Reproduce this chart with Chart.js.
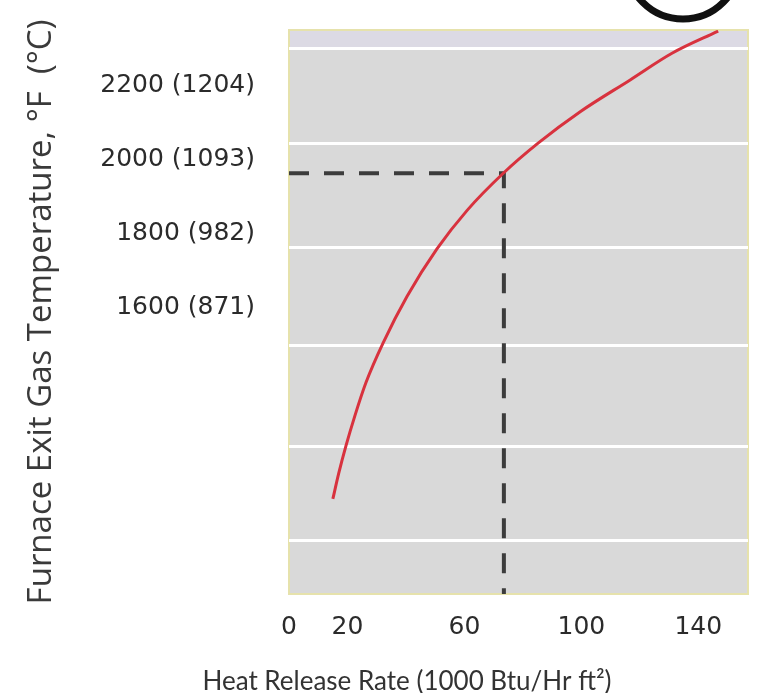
<!DOCTYPE html>
<html>
<head>
<meta charset="utf-8">
<script src="https://cdn.jsdelivr.net/npm/chart.js@4"></script>
<style>
  html, body { margin: 0; padding: 0; background: #fff; }
</style>
</head>
<body>
<canvas id="chart" width="759" height="693"></canvas>
<script>
// curve (1000 Btu/Hr ft2 vs deg F)
const heatRate = [15.0, 17.0, 19.5, 22.5, 26.3, 32.2, 40.4, 50.6, 61.0, 73.2, 85.2, 99.6, 116.7, 131.0, 146.8];
const exitTemp = [1081, 1150, 1225, 1305, 1395, 1503, 1629, 1757, 1862, 1961, 2043, 2128, 2214, 2286, 2346];

// dashed read-out line
const readRate = [0, 73.5, 73.5];
const readTemp = [1962, 1962, 824];

const xTicks = [0, 20, 60, 100, 140];
const yTicks = [1600, 1800, 2000, 2200];
const yTickLabels = ["1600 (871)", "1800 (982)", "2000 (1093)", "2200 (1204)"];
// white grid bands do not sit on the labelled ticks
const gridTemps = [968, 1224, 1497, 1762, 2041, 2300];

const xTitle = "Heat Release Rate (1000 Btu/Hr ft\u00b2)";
const yTitle = "Furnace Exit Gas Temperature, \u00b0F  (\u00b0C)";

const plotBg = {
  id: "plotBg",
  beforeDraw(chart) {
    const { ctx, chartArea: a } = chart;
    ctx.save();
    ctx.fillStyle = "#d9d9d9";
    ctx.fillRect(a.left, a.top, a.right - a.left, a.bottom - a.top);
    const band = chart.scales.yGrid.getPixelForValue(gridTemps[gridTemps.length - 1]);
    ctx.fillStyle = "#dcdae4";
    ctx.fillRect(a.left, a.top, a.right - a.left, band - a.top);
    ctx.strokeStyle = "#e6e2ac";
    ctx.lineWidth = 2;
    ctx.strokeRect(a.left, a.top, a.right - a.left, a.bottom - a.top);
    ctx.restore();
  },
};

const extras = {
  id: "extras",
  afterDraw(chart) {
    const { ctx } = chart;
    ctx.save();
    ctx.font = "26px Lato";
    ctx.fillStyle = "#333333";
    ctx.textAlign = "center";
    ctx.textBaseline = "middle";
    ctx.fillText(xTitle, 407, 682);
    // black arc cut off at the top edge
    ctx.beginPath();
    ctx.arc(683, -38, 57, 0, Math.PI);
    ctx.lineWidth = 7;
    ctx.strokeStyle = "#111111";
    ctx.stroke();
    ctx.restore();
  },
};

Chart.defaults.font.family = "'DejaVu Sans', sans-serif";

new Chart(document.getElementById("chart"), {
  type: "line",
  data: {
    datasets: [
      {
        data: heatRate.map((x, i) => ({ x: x, y: exitTemp[i] })),
        borderColor: "#d8323e",
        borderWidth: 3,
        pointRadius: 0,
        cubicInterpolationMode: "monotone",
      },
      {
        data: readRate.map((x, i) => ({ x: x, y: readTemp[i] })),
        borderColor: "#3c3c3c",
        borderWidth: 4,
        borderDash: [20, 15],
        pointRadius: 0,
        tension: 0,
      },
    ],
  },
  options: {
    responsive: false,
    animation: false,
    layout: { padding: { top: 30, right: 11, left: 0, bottom: 0 } },
    plugins: { legend: { display: false }, tooltip: { enabled: false } },
    scales: {
      x: {
        type: "linear",
        min: 0,
        max: 157,
        afterBuildTicks: (s) => { s.ticks = xTicks.map((v) => ({ value: v })); },
        afterFit: (s) => { s.height = 99; s.paddingLeft = 0; s.paddingRight = 0; },
        grid: { display: false, drawTicks: false },
        border: { display: false },
        ticks: { padding: 18, color: "#2b2b2b", font: { size: 25 }, maxRotation: 0 },
      },
      y: {
        type: "linear",
        min: 824,
        max: 2349,
        afterBuildTicks: (s) => { s.ticks = yTicks.map((v) => ({ value: v })); },
        afterFit: (s) => { s.width = 289; s.paddingTop = 0; s.paddingBottom = 0; },
        grid: { display: false, drawTicks: false },
        border: { display: false },
        ticks: {
          padding: 34,
          color: "#2b2b2b",
          font: { size: 25 },
          callback: (v) => yTickLabels[yTicks.indexOf(v)],
        },
        title: {
          display: true,
          text: yTitle,
          color: "#3a3a3a",
          font: { family: "'Open Sans'", size: 33 },
          padding: { top: 22, bottom: 0 },
        },
      },
      yGrid: {
        type: "linear",
        position: "right",
        min: 824,
        max: 2349,
        afterBuildTicks: (s) => { s.ticks = gridTemps.map((v) => ({ value: v })); },
        grid: { color: "#ffffff", lineWidth: 3, drawTicks: false },
        border: { display: false },
        ticks: { display: false },
      },
    },
  },
  plugins: [plotBg, extras],
});
</script>
</body>
</html>
